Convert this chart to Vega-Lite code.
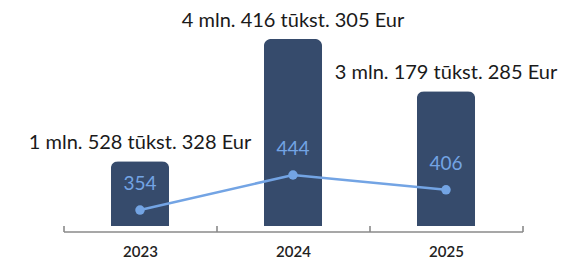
{
  "$schema": "https://vega.github.io/schema/vega-lite/v6.json",
  "width": 459,
  "height": 216,
  "autosize": "none",
  "padding": {"left": 63.5, "top": 10, "right": 54.5, "bottom": 33},
  "background": "white",
  "config": {
    "view": {"stroke": null},
    "font": "Lato",
    "axis": {"ticks": true, "tickSize": -6, "tickColor": "#8a8a8a", "tickWidth": 1.6, "tickOpacity": 1}
  },
  "data": {
    "values": [
      {"year": "2023", "amount": 1528328, "label": "1 mln. 528 tūkst. 328 Eur", "count": 354},
      {"year": "2024", "amount": 4416305, "label": "4 mln. 416 tūkst. 305 Eur", "count": 444},
      {"year": "2025", "amount": 3179285, "label": "3 mln. 179 tūkst. 285 Eur", "count": 406}
    ]
  },
  "encoding": {
    "x": {
      "field": "year",
      "type": "nominal",
      "scale": {"paddingInner": 0, "paddingOuter": 0},
      "axis": {
        "title": null,
        "labelAngle": 0,
        "offset": 5.5,
        "tickBand": "extent",
        "domainColor": "#8a8a8a",
        "domainWidth": 1.6,
        "labelFontSize": 15,
        "labelFontWeight": 600,
        "labelColor": "#222222",
        "labelPadding": 19,
        "labelFont": "Lato"
      }
    }
  },
  "layer": [
    {
      "layer": [
        {
          "mark": {"type": "bar", "color": "#364b6c", "width": {"band": 0.38}, "cornerRadiusTopLeft": 7, "cornerRadiusTopRight": 7},
          "encoding": {
            "y": {"field": "amount", "type": "quantitative", "scale": {"domain": [0, 5100000]}, "axis": null}
          }
        },
        {
          "mark": {"type": "text", "baseline": "middle", "dy": -18, "fontSize": 20, "color": "#1a1a1a", "font": "Lato"},
          "encoding": {
            "y": {"field": "amount", "type": "quantitative", "scale": {"domain": [0, 5100000]}, "axis": null},
            "text": {"field": "label"}
          }
        }
      ]
    },
    {
      "layer": [
        {
          "mark": {"type": "line", "color": "#73a4e4", "strokeWidth": 2.6},
          "encoding": {
            "y": {"field": "count", "type": "quantitative", "scale": {"domain": [313, 868]}, "axis": null}
          }
        },
        {
          "mark": {"type": "point", "filled": true, "opacity": 1, "color": "#73a4e4", "size": 90},
          "encoding": {
            "y": {"field": "count", "type": "quantitative", "scale": {"domain": [313, 868]}, "axis": null}
          }
        },
        {
          "mark": {"type": "text", "baseline": "middle", "dy": -26, "fontSize": 19, "color": "#73a4e4", "font": "Lato"},
          "encoding": {
            "y": {"field": "count", "type": "quantitative", "scale": {"domain": [313, 868]}, "axis": null},
            "text": {"field": "count"}
          }
        }
      ]
    }
  ],
  "resolve": {"scale": {"y": "independent"}}
}
